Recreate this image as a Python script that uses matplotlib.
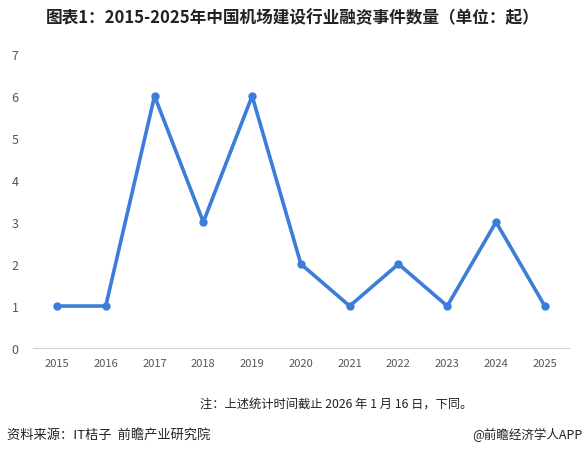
import matplotlib.pyplot as plt

plt.rcParams['font.family'] = ['Noto Sans CJK SC', 'DejaVu Sans']

years = ['2015', '2016', '2017', '2018', '2019', '2020', '2021', '2022', '2023', '2024', '2025']
counts = [1, 1, 6, 3, 6, 2, 1, 2, 1, 3, 1]

fig = plt.figure(figsize=(5.85, 4.56), dpi=100)
ax = fig.add_axes([0.0557, 0.2346, 0.9173, 0.6447])

x = range(len(years))
ax.plot(x, counts, color='#3b7dd8', linewidth=2.6, marker='o', markersize=5)

ax.set_xlim(-0.5, len(years) - 0.5)
ax.set_ylim(0, 7)
ax.set_xticks(list(x))
ax.set_xticklabels(years)
ax.set_yticks(range(0, 8))
ax.tick_params(axis='both', length=0, colors='#555555')
ax.tick_params(axis='x', labelsize=8, pad=7)
ax.tick_params(axis='y', labelsize=9, pad=10)
for s in ['top', 'right', 'left']:
    ax.spines[s].set_visible(False)
ax.spines['bottom'].set_color('#d0d0d0')

fig.text(0.5, 0.96, '图表1：2015-2025年中国机场建设行业融资事件数量（单位：起）',
         ha='center', va='center', fontsize=12, fontweight='bold', color='#222222')
fig.text(0.575, 0.112, '注：上述统计时间截止 2026 年 1 月 16 日，下同。',
         ha='center', va='center', fontsize=8.8, color='#222222')
fig.text(0.012, 0.046, '资料来源：IT桔子  前瞻产业研究院',
         ha='left', va='center', fontsize=9.5, color='#222222')
fig.text(0.995, 0.046, '@前瞻经济学人APP',
         ha='right', va='center', fontsize=9, color='#222222')

fig.savefig('out.png', dpi=100)
